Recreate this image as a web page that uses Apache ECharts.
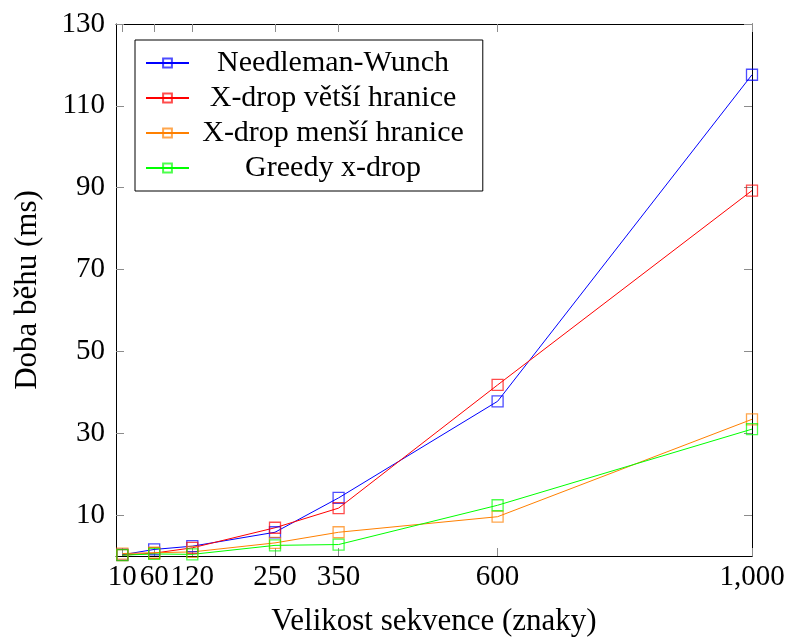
<!DOCTYPE html>
<html><head><meta charset="utf-8">
<script src="https://cdn.jsdelivr.net/npm/echarts@6/dist/echarts.min.js"></script>
<style>html,body{margin:0;padding:0;background:#fff}#c{width:787px;height:638px}</style>
</head><body><div id="c"></div>
<script>
const xValues = [10, 60, 120, 250, 350, 600, 1000];
const xTicks = [10, 60, 120, 250, 350, 600, 1000];
const yTicks = [10, 30, 50, 70, 90, 110, 130];
const seriesNames = ['Needleman-Wunch', 'X-drop větší hranice', 'X-drop menší hranice', 'Greedy x-drop'];
const needleman = [0.3, 1.6, 2.4, 5.8, 14.2, 37.8, 117.6];
const xdropBig = [0.2, 0.7, 2.0, 6.9, 11.7, 41.8, 89.3];
const xdropSmall = [0.6, 0.8, 1.0, 3.2, 5.8, 9.6, 33.4];
const greedy = [0.2, 0.5, 0.4, 2.6, 2.8, 12.4, 31.0];
const colors = ['#0000ff', '#ff0000', '#ff8000', '#00ff00'];
const markColors = ['rgba(0,0,255,0.7)', 'rgba(255,0,0,0.7)', 'rgba(255,128,0,0.7)', 'rgba(0,255,0,0.7)'];
const values = [needleman, xdropBig, xdropSmall, greedy];

const FONT = "'Liberation Serif', 'DejaVu Serif', serif";
const chart = echarts.init(document.getElementById('c'), null, {renderer: 'canvas'});
const tickStyle = {show: true, inside: true, length: 8, lineStyle: {color: '#8c8c8c', width: 1}};
const lineStyle = {show: true, lineStyle: {color: '#000', width: 1}};

chart.setOption({
  animation: false,
  backgroundColor: '#fff',
  textStyle: {fontFamily: FONT},
  grid: {left: 116, right: 35, top: 24, bottom: 82, containLabel: false, outerBoundsMode: 'none'},
  xAxis: [{
    type: 'value', min: 0, max: 1000, position: 'bottom',
    axisLine: Object.assign({onZero: false}, lineStyle),
    axisTick: Object.assign({customValues: xTicks}, tickStyle),
    axisLabel: {customValues: xTicks, margin: 7, fontFamily: FONT, fontSize: 29, color: '#000',
      formatter: v => v === 1000 ? '1,000' : String(v)},
    splitLine: {show: false},
    name: 'Velikost sekvence (znaky)', nameLocation: 'middle', nameGap: 50,
    nameTextStyle: {fontFamily: FONT, fontSize: 31, color: '#000'}
  }, {
    type: 'value', min: 0, max: 1000, position: 'top',
    axisLine: Object.assign({onZero: false}, lineStyle),
    axisTick: Object.assign({customValues: xTicks}, tickStyle),
    axisLabel: {show: false}, splitLine: {show: false}
  }],
  yAxis: [{
    type: 'value', min: 0, max: 130, position: 'left',
    axisLine: Object.assign({onZero: false}, lineStyle),
    axisTick: Object.assign({customValues: yTicks}, tickStyle),
    axisLabel: {customValues: yTicks, margin: 11, fontFamily: FONT, fontSize: 29, color: '#000'},
    splitLine: {show: false},
    name: 'Doba běhu (ms)', nameLocation: 'middle', nameGap: 73,
    nameTextStyle: {fontFamily: FONT, fontSize: 31, color: '#000'}
  }, {
    type: 'value', min: 0, max: 130, position: 'right',
    axisLine: Object.assign({onZero: false}, lineStyle),
    axisTick: Object.assign({customValues: yTicks}, tickStyle),
    axisLabel: {show: false}, splitLine: {show: false}
  }],
  legend: {
    left: 135, top: 40, orient: 'vertical',
    data: seriesNames,
    backgroundColor: '#fff', borderColor: '#000', borderWidth: 1,
    padding: [8, 19, 8, 10], itemGap: 5, itemWidth: 43, itemHeight: 11,
    formatter: n => '{c|' + n + '}',
    textStyle: {fontFamily: FONT, fontSize: 30, color: '#000',
      rich: {c: {width: 278, align: 'center', fontFamily: FONT, fontSize: 30, color: '#000'}}}
  },
  series: seriesNames.map((name, i) => ({
    name: name, type: 'line',
    data: xValues.map((x, j) => [x, values[i][j]]),
    symbol: 'rect', symbolSize: 11, clip: false,
    lineStyle: {color: colors[i], width: 1},
    itemStyle: {color: 'rgba(255,255,255,0)', borderColor: markColors[i], borderWidth: 1.3},
    emphasis: {disabled: true}
  }))
});
</script></body></html>
